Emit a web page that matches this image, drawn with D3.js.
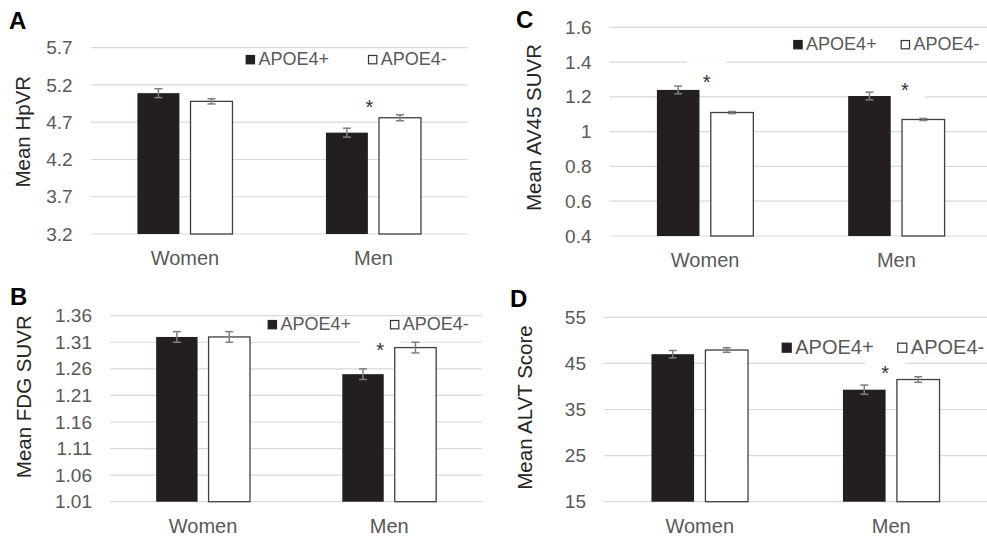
<!DOCTYPE html>
<html>
<head>
<meta charset="utf-8">
<script src="https://cdn.jsdelivr.net/npm/d3@7"></script>
<style>
  body { margin: 0; background: #fff; }
  svg { display: block; font-family: "Liberation Sans", Arial, sans-serif; }
</style>
</head>
<body>
<svg id="main" width="987" height="538"></svg>
<script>
// Data
const categories = ["Women", "Men"];
const groups = ["APOE4+", "APOE4-"];

// A: hippocampal volume ratio
const hpvrPlus = [5.09, 4.56];
const hpvrMinus = [4.98, 4.76];
const hpvrPlusErr = [0.06, 0.06];
const hpvrMinusErr = [0.035, 0.04];
const hpvrTicks = [3.2, 3.7, 4.2, 4.7, 5.2, 5.7];
const hpvrStarCats = ["Men"];
const hpvrStarY = [4.96];

// B: FDG SUVR
const fdgPlus = [1.32, 1.25];
const fdgMinus = [1.32, 1.3];
const fdgPlusErr = [0.01, 0.01];
const fdgMinusErr = [0.01, 0.01];
const fdgTicks = [1.01, 1.06, 1.11, 1.16, 1.21, 1.26, 1.31, 1.36];
const fdgStarCats = ["Men"];
const fdgStarY = [1.303];

// C: AV45 SUVR
const av45Plus = [1.24, 1.205];
const av45Minus = [1.11, 1.07];
const av45PlusErr = [0.022, 0.022];
const av45MinusErr = [0.006, 0.006];
const av45Ticks = [0.4, 0.6, 0.8, 1, 1.2, 1.4, 1.6];
const av45StarCats = ["Women", "Men"];
const av45StarY = [1.313, 1.268];

// D: ALVT score
const alvtPlus = [47.0, 39.3];
const alvtMinus = [47.9, 41.5];
const alvtPlusErr = [0.8, 1.0];
const alvtMinusErr = [0.5, 0.6];
const alvtTicks = [15, 25, 35, 45, 55];
const alvtStarCats = ["Men"];
const alvtStarY = [43.94];

// Colours
const darkFill = "#231f20";
const gridColor = "#d9d9d9";
const textGray = "#595959";
const errColor = "#7f7f7f";

// Layout config, one per panel
const panels = [
  {
    letter: "A", letterX: 9, letterY: 29,
    left: 90.7, right: 467.7, top: 47.7, bottom: 234,
    ylabel: "Mean HpVR", ylabelX: 30, ylabelY: 131.7,
    legendX: 245.7, legendY: 55, legendGap: 122.3, legendFont: 18,
    plus: hpvrPlus, minus: hpvrMinus, plusErr: hpvrPlusErr, minusErr: hpvrMinusErr,
    ticks: hpvrTicks, fmt: d3.format(".1f"),
    starCats: hpvrStarCats, starY: hpvrStarY, starDx: [-4],
  },
  {
    letter: "B", letterX: 10, letterY: 305,
    left: 110, right: 482.3, top: 315.7, bottom: 501.7,
    ylabel: "Mean FDG SUVR", ylabelX: 30.7, ylabelY: 396.7,
    legendX: 267.7, legendY: 320, legendGap: 122.3, legendFont: 18,
    plus: fdgPlus, minus: fdgMinus, plusErr: fdgPlusErr, minusErr: fdgMinusErr,
    ticks: fdgTicks, fmt: d3.format(".2f"),
    starCats: fdgStarCats, starY: fdgStarY, starDx: [-9],
  },
  {
    letter: "C", letterX: 516, letterY: 28,
    left: 609.5, right: 992, top: 27.3, bottom: 236,
    ylabel: "Mean AV45 SUVR", ylabelX: 540.7, ylabelY: 127.5,
    legendX: 793.3, legendY: 40, legendGap: 107.4, legendFont: 18,
    plus: av45Plus, minus: av45Minus, plusErr: av45PlusErr, minusErr: av45MinusErr,
    ticks: av45Ticks, fmt: (d) => String(+d.toFixed(1)),
    starCats: av45StarCats, starY: av45StarY, starDx: [1.5, 8.5],
  },
  {
    letter: "D", letterX: 510, letterY: 306.7,
    left: 604, right: 987, top: 317.3, bottom: 501.7,
    ylabel: "Mean ALVT Score", ylabelX: 531.7, ylabelY: 407.5,
    legendX: 781.7, legendY: 342.7, legendGap: 115.6, legendFont: 20,
    plus: alvtPlus, minus: alvtMinus, plusErr: alvtPlusErr, minusErr: alvtMinusErr,
    ticks: alvtTicks, fmt: d3.format("d"),
    starCats: alvtStarCats, starY: alvtStarY, starDx: [-6],
  },
];

const svg = d3.select("#main");

panels.forEach((p) => {
  const g = svg.append("g");

  const x0 = d3.scaleBand().domain(categories).range([p.left, p.right]);
  const x1 = d3
    .scaleBand()
    .domain(groups)
    .range([0, x0.bandwidth()])
    .paddingInner(0.21)
    .paddingOuter(0.88);
  const y = d3
    .scaleLinear()
    .domain(d3.extent(p.ticks))
    .range([p.bottom, p.top]);

  // Gridlines
  g.append("g")
    .selectAll("line")
    .data(p.ticks)
    .join("line")
    .attr("x1", p.left)
    .attr("x2", p.right)
    .attr("y1", (d) => y(d))
    .attr("y2", (d) => y(d))
    .attr("stroke", gridColor)
    .attr("stroke-width", 1.2);

  // y axis tick labels
  const yg = g
    .append("g")
    .attr("transform", `translate(${p.left},0)`)
    .call(d3.axisLeft(y).tickValues(p.ticks).tickFormat(p.fmt).tickSize(0).tickPadding(18));
  yg.select(".domain").remove();
  yg.selectAll("text")
    .attr("fill", textGray)
    .attr("font-size", 19)
    .attr("font-family", "Liberation Sans, Arial, sans-serif");

  // x axis category labels
  g.append("g")
    .selectAll("text")
    .data(categories)
    .join("text")
    .attr("x", (d) => x0(d) + x0.bandwidth() / 2)
    .attr("y", p.bottom + 31)
    .attr("text-anchor", "middle")
    .attr("font-size", 20)
    .attr("fill", textGray)
    .text((d) => d);

  // White boxes behind the significance stars (they hide gridlines)
  const stars = p.starCats.map((c, i) => ({
    cx: x0(c) + x0.bandwidth() / 2 + p.starDx[i],
    cy: y(p.starY[i]),
  }));
  g.append("g")
    .selectAll("rect")
    .data(stars)
    .join("rect")
    .attr("x", (d) => d.cx - 20)
    .attr("y", (d) => d.cy - 16)
    .attr("width", 40)
    .attr("height", 32)
    .attr("fill", "#fff");

  // Bars
  const rows = categories.map((c, i) => ({
    cat: c,
    vals: [
      { grp: groups[0], v: p.plus[i], e: p.plusErr[i] },
      { grp: groups[1], v: p.minus[i], e: p.minusErr[i] },
    ],
  }));

  const barg = g
    .append("g")
    .selectAll("g")
    .data(rows)
    .join("g")
    .attr("transform", (d) => `translate(${x0(d.cat)},0)`);

  barg
    .selectAll("rect")
    .data((d) => d.vals)
    .join("rect")
    .attr("x", (d) => x1(d.grp))
    .attr("y", (d) => y(d.v))
    .attr("width", x1.bandwidth())
    .attr("height", (d) => p.bottom - y(d.v))
    .attr("fill", (d) => (d.grp === groups[0] ? darkFill : "#fff"))
    .attr("stroke", (d) => (d.grp === groups[0] ? "none" : "#404040"))
    .attr("stroke-width", 1.3);

  // Error bars
  const errg = barg
    .selectAll("g.err")
    .data((d) => d.vals)
    .join("g")
    .attr("class", "err")
    .attr("stroke", errColor)
    .attr("stroke-width", 1.5);
  errg
    .append("line")
    .attr("x1", (d) => x1(d.grp) + x1.bandwidth() / 2)
    .attr("x2", (d) => x1(d.grp) + x1.bandwidth() / 2)
    .attr("y1", (d) => y(d.v - d.e))
    .attr("y2", (d) => y(d.v + d.e));
  [1, -1].forEach((s) => {
    errg
      .append("line")
      .attr("x1", (d) => x1(d.grp) + x1.bandwidth() / 2 - 4)
      .attr("x2", (d) => x1(d.grp) + x1.bandwidth() / 2 + 4)
      .attr("y1", (d) => y(d.v + s * d.e))
      .attr("y2", (d) => y(d.v + s * d.e));
  });

  // Stars
  g.append("g")
    .selectAll("text")
    .data(stars)
    .join("text")
    .attr("x", (d) => d.cx)
    .attr("y", (d) => d.cy + 11.5)
    .attr("text-anchor", "middle")
    .attr("font-size", 20)
    .attr("fill", "#333")
    .text("*");

  // Legend
  const leg = g
    .append("g")
    .selectAll("g")
    .data(groups)
    .join("g")
    .attr("transform", (d, i) => `translate(${p.legendX + i * p.legendGap},${p.legendY})`);
  const sq = p.legendFont > 18 ? 10 : 9.3;
  leg
    .append("rect")
    .attr("x", 0.5)
    .attr("y", 0.5)
    .attr("width", sq - 1)
    .attr("height", sq - 1)
    .attr("fill", (d, i) => (i === 0 ? darkFill : "#fff"))
    .attr("stroke", (d, i) => (i === 0 ? darkFill : "#333"))
    .attr("stroke-width", 1.2);
  leg
    .append("text")
    .attr("x", sq + 3.5)
    .attr("y", sq + 0.8)
    .attr("font-size", p.legendFont)
    .attr("fill", textGray)
    .text((d) => d);

  // y axis title
  g.append("text")
    .attr("transform", `translate(${p.ylabelX},${p.ylabelY}) rotate(-90)`)
    .attr("text-anchor", "middle")
    .attr("font-size", 20.5)
    .attr("fill", "#262626")
    .text(p.ylabel);

  // Panel letter
  g.append("text")
    .attr("x", p.letterX)
    .attr("y", p.letterY)
    .attr("font-size", 24)
    .attr("font-weight", "bold")
    .attr("fill", "#000")
    .text(p.letter);
});
</script>
</body>
</html>
